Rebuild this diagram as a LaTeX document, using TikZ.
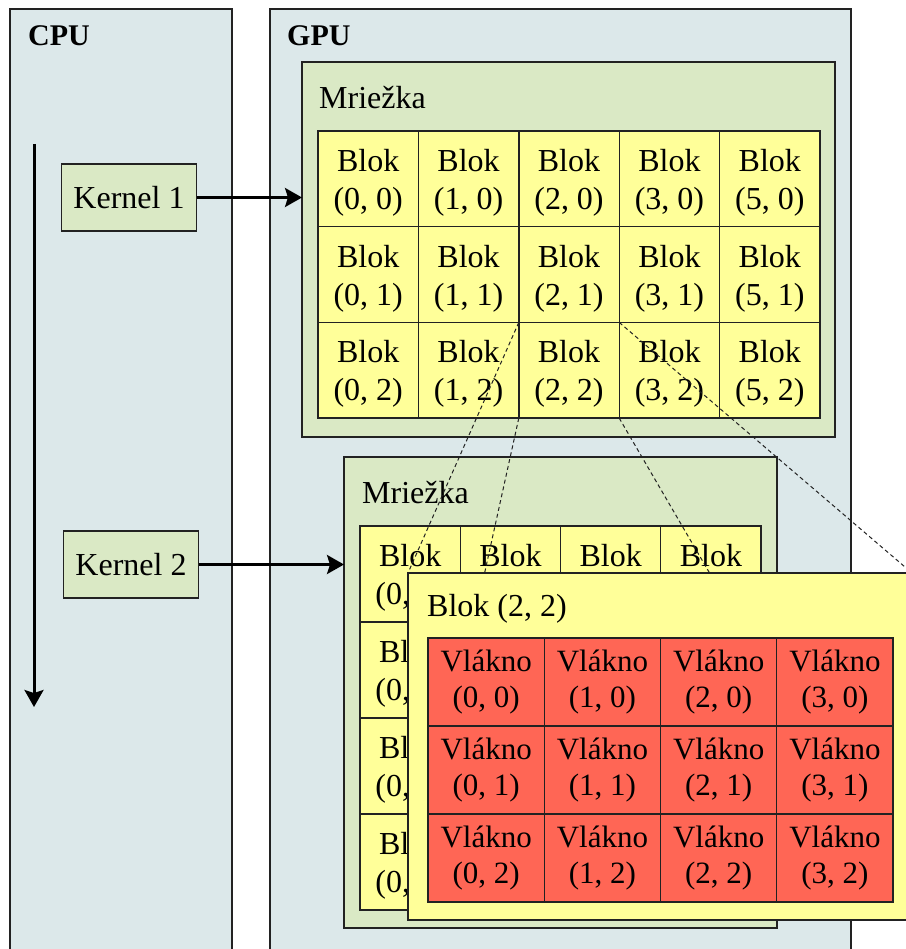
\documentclass[tikz,border=0pt]{standalone}
\usepackage{fontspec}
\setmainfont{Liberation Serif}
\usetikzlibrary{arrows.meta}

\definecolor{hostbg}{HTML}{DCE8EA}
\definecolor{gridbg}{HTML}{DAE9C5}
\definecolor{blockbg}{HTML}{FFFF99}
\definecolor{threadbg}{HTML}{FF6655}
\definecolor{edge}{HTML}{222222}

\tikzset{
  box/.style={rectangle, draw=edge, line width=1.4pt, inner sep=0pt, outer sep=0pt, anchor=north west},
  panel/.style={box, fill=hostbg},
  gridbox/.style={box, fill=gridbg},
  kernelbox/.style={box, fill=gridbg, anchor=center, minimum width=135pt, minimum height=67pt,
    font=\fontsize{32}{38}\selectfont},
  blockcell/.style={box, fill=blockbg, align=center, font=\fontsize{32}{38}\selectfont},
  blockpanel/.style={box, fill=blockbg},
  threadcell/.style={box, fill=threadbg, align=center, font=\fontsize{31}{36}\selectfont},
  caption/.style={anchor=base west, inner sep=0pt, font=\fontsize{32}{38}\selectfont},
  title/.style={anchor=base west, inner sep=0pt, font=\fontsize{30}{36}\selectfont\bfseries},
  launch/.style={line width=3pt, draw=black, -{Stealth[length=17pt,width=19pt,inset=3pt]}},
  zoomline/.style={draw=edge, line width=1pt, dash pattern=on 4pt off 3pt},
}

\begin{document}
\begin{tikzpicture}[x=1pt, y=-1pt]
  \useasboundingbox (0,0) rectangle (905,949);

  % host and device columns (open at the bottom)
  \node[panel, minimum width=222pt, minimum height=960pt] (cpu) at (10,9) {};
  \node[panel, minimum width=581pt, minimum height=960pt] (gpu) at (270,9) {};
  \node[title] (cpu-t) at (28,46) {CPU};
  \node[title] (gpu-t) at (287,46) {GPU};

  % time line of the host
  \coordinate (time-start) at (34,144);
  \coordinate (time-end) at (34,707);
  \draw[launch] (time-start) -- (time-end);

  % kernels
  \node[kernelbox] (k1) at (129,197.5) {Kernel 1};
  \node[kernelbox] (k2) at (131,564.5) {Kernel 2};

  % first grid
  \node[gridbox, minimum width=533pt, minimum height=375pt] (g1) at (302,62) {};
  \node[caption] (g1-t) at (319,109) {Mriežka};
  \foreach \c/\lab in {0/0,1/1,2/2,3/3,4/5} {
    \foreach \r in {0,1,2} {
      \node[blockcell, minimum width=100.4pt, minimum height=95.7pt]
        (g1-\c-\r) at ({318+100.4*\c},{131+95.7*\r}) {};
      \node[align=center, font=\fontsize{32}{38}\selectfont, yshift=-4pt]
        (g1-\c-\r-t) at (g1-\c-\r.center) {Blok\\(\lab, \r)};
    }
  }

  % second grid
  \node[gridbox, minimum width=433pt, minimum height=471pt] (g2) at (344,457) {};
  \node[caption] (g2-t) at (362,503) {Mriežka};
  \foreach \c in {0,1,2,3} {
    \foreach \r in {0,1,2,3} {
      \node[blockcell, minimum width=100.25pt, minimum height=96pt]
        (g2-\c-\r) at ({360+100.25*\c},{526+96*\r}) {};
      \pgfmathtruncatemacro{\edgecell}{(\c==0)||(\r==0)}
      \ifnum\edgecell=1
        \node[align=center, font=\fontsize{32}{38}\selectfont, yshift=-4pt]
          (g2-\c-\r-t) at (g2-\c-\r.center) {Blok\\(\c, \r)};
      \fi
    }
  }

  % kernel launches
  \draw[launch] (k1.east) -- (k1.east -| g1.west);
  \draw[launch] (k2.east) -- (k2.east -| g2.west);

  % enlarged block (2, 2)
  \coordinate (blk-nw) at (408,573);
  \coordinate (blk-ne) at (912,573);
  \coordinate (blk-sw) at (408,920);
  \coordinate (blk-se) at (912,920);
  \draw[zoomline] (g1-2-2.north west) -- (blk-nw);
  \draw[zoomline] (g1-2-2.south west) -- (blk-sw);
  \draw[zoomline] (g1-2-2.south east) -- (blk-se);
  \draw[zoomline] (g1-2-2.north east) -- (blk-ne);

  \node[blockpanel, minimum width=504pt, minimum height=347pt] (blk) at (blk-nw) {};
  \node[caption] (blk-t) at (427,616) {Blok (2, 2)};
  \foreach \c in {0,1,2,3} {
    \foreach \r in {0,1,2} {
      \node[threadcell, minimum width=116.25pt, minimum height=88pt]
        (t-\c-\r) at ({428+116.25*\c},{638+88*\r}) {Vlákno\\(\c, \r)};
    }
  }
\end{tikzpicture}
\end{document}
